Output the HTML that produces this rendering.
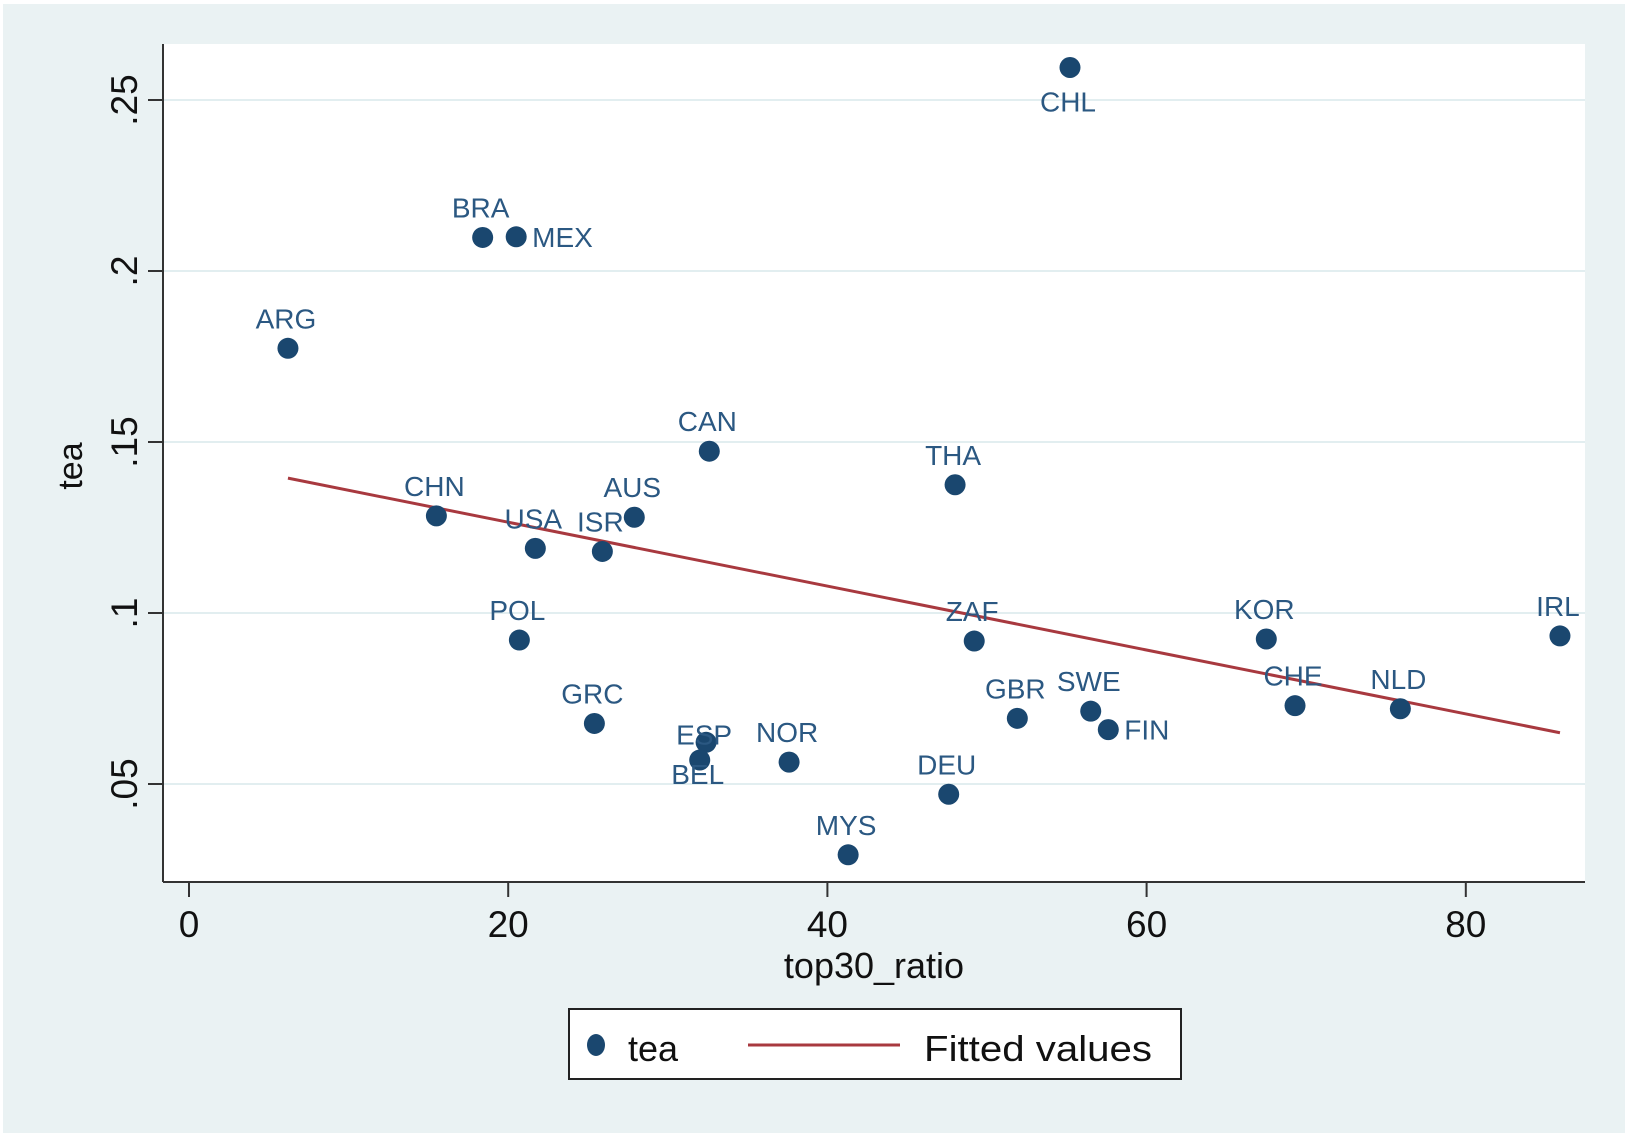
<!DOCTYPE html>
<html><head><meta charset="utf-8"><style>
html,body{margin:0;padding:0;background:#fff}
svg{display:block;font-family:"Liberation Sans",sans-serif}
</style></head><body>
<svg id="chart" width="1633" height="1137" viewBox="0 0 1633 1137" xmlns="http://www.w3.org/2000/svg">
<rect x="3" y="4" width="1622" height="1129" fill="#eaf2f3"/>
<rect x="163" y="44" width="1422" height="838" fill="#ffffff"/>
<g id="grid"></g>
<g id="axes"></g>
<g id="fit"></g>
<g id="pts"></g>
<text x="82" y="466" font-size="34" fill="#111" text-anchor="middle" transform="rotate(-90 82 466)">tea</text>
<text x="874" y="978" font-size="36" fill="#111" text-anchor="middle">top30_ratio</text>
<g>
<rect x="569" y="1009" width="612" height="70" fill="#fff" stroke="#222" stroke-width="2"/>
<g>
<ellipse cx="596" cy="1045" rx="9" ry="11" fill="#1a476f"/>
<text x="628" y="1061" font-size="36" fill="#111">tea</text>
</g>
<g>
<line x1="748" y1="1045" x2="900" y2="1045" stroke="#a8393f" stroke-width="3"/>
<text x="924" y="1061" font-size="36" fill="#111" textLength="228" lengthAdjust="spacingAndGlyphs">Fitted values</text>
</g>
</g>
</svg>
<script>
const countries=["CHL","BRA","MEX","ARG","CAN","THA","CHN","AUS","USA","ISR","POL","ZAF","KOR","IRL","GRC","CHE","NLD","GBR","SWE","FIN","ESP","BEL","NOR","DEU","MYS"];
const ratioValues=[55.2,18.4,20.5,6.2,32.6,48.0,15.5,27.9,21.7,25.9,20.7,49.2,67.5,85.9,25.4,69.3,75.9,51.9,56.5,57.6,32.4,32.0,37.6,47.6,41.3];
const teaValues=[0.2595,0.2098,0.210,0.1774,0.1473,0.1375,0.1284,0.128,0.1189,0.118,0.0921,0.0918,0.0924,0.0933,0.0677,0.0729,0.072,0.0692,0.0713,0.0659,0.0622,0.057,0.0564,0.047,0.0293];
const labelPos=["below","above","right","above","above","above","above","above","above","above","above","above","above","above","above","above","above","above","above","right","close","belowclose","above","above","above"];
const xTicks=[0,20,40,60,80];
const yTicks=[0.05,0.1,0.15,0.2,0.25];
const yTickLabels=[".05",".1",".15",".2",".25"];

const NS="http://www.w3.org/2000/svg";
function xs(v){return 189+(v-0)*15.96;}
function ys(v){return 100+(0.25-v)*3420;}
function mk(tag,attrs,parent){const e=document.createElementNS(NS,tag);for(const k in attrs)e.setAttribute(k,attrs[k]);parent.appendChild(e);return e;}
const grid=document.getElementById('grid'),axes=document.getElementById('axes'),fit=document.getElementById('fit'),pts=document.getElementById('pts');

yTicks.forEach((t,i)=>{
  const y=ys(t);
  const g=mk('line',{x1:164,x2:1585,y1:y,y2:y,stroke:'#e2eef0','stroke-width':2},grid);
  
  
  const tk=mk('line',{x1:148,x2:163,y1:y,y2:y,stroke:'#333','stroke-width':2},axes);
  
  
  const tx=mk('text',{x:137,y:y,'font-size':37,fill:'#111','text-anchor':'middle',transform:'rotate(-90 137 '+y+')'},axes);
  tx.textContent=yTickLabels[i];
  
  
});
const ya=mk('line',{x1:163,x2:163,y1:44,y2:882,stroke:'#333','stroke-width':2},axes);


const xa=mk('line',{x1:163,x2:1585,y1:882,y2:882,stroke:'#333','stroke-width':2},axes);


xTicks.forEach(t=>{
  const x=xs(t);
  const tk=mk('line',{x1:x,x2:x,y1:882,y2:897,stroke:'#333','stroke-width':2},axes);
  
  
  const tx=mk('text',{x:x,y:937,'font-size':37,fill:'#111','text-anchor':'middle'},axes);
  tx.textContent=String(t);
  
  
});

const n=ratioValues.length;
let mx=0,my=0;for(let i=0;i<n;i++){mx+=ratioValues[i];my+=teaValues[i];}mx/=n;my/=n;
let sxy=0,sxx=0;for(let i=0;i<n;i++){sxy+=(ratioValues[i]-mx)*(teaValues[i]-my);sxx+=(ratioValues[i]-mx)**2;}
const b=sxy/sxx,a=my-b*mx;
const xmin=Math.min(...ratioValues),xmax=Math.max(...ratioValues);
const fl=mk('line',{x1:xs(xmin),y1:ys(a+b*xmin),x2:xs(xmax),y2:ys(a+b*xmax),stroke:'#a8393f','stroke-width':3},fit);



countries.forEach((c,i)=>{
  const x=xs(ratioValues[i]),y=ys(teaValues[i]);
  const d=mk('circle',{cx:x,cy:y,r:10.5,fill:'#1a476f'},pts);
  
  
  let lx=x-2,ly=y-20,anc='middle';
  if(labelPos[i]==='below'){ly=y+44;}
  else if(labelPos[i]==='belowclose'){ly=y+24;}
  else if(labelPos[i]==='close'){ly=y+2;}
  else if(labelPos[i]==='right'){lx=x+16;ly=y+10;anc='start';}
  const t=mk('text',{x:lx,y:ly,'font-size':28,fill:'#2b5882','text-anchor':anc},pts);
  t.textContent=c;
  
  
});
</script>
</body></html>
